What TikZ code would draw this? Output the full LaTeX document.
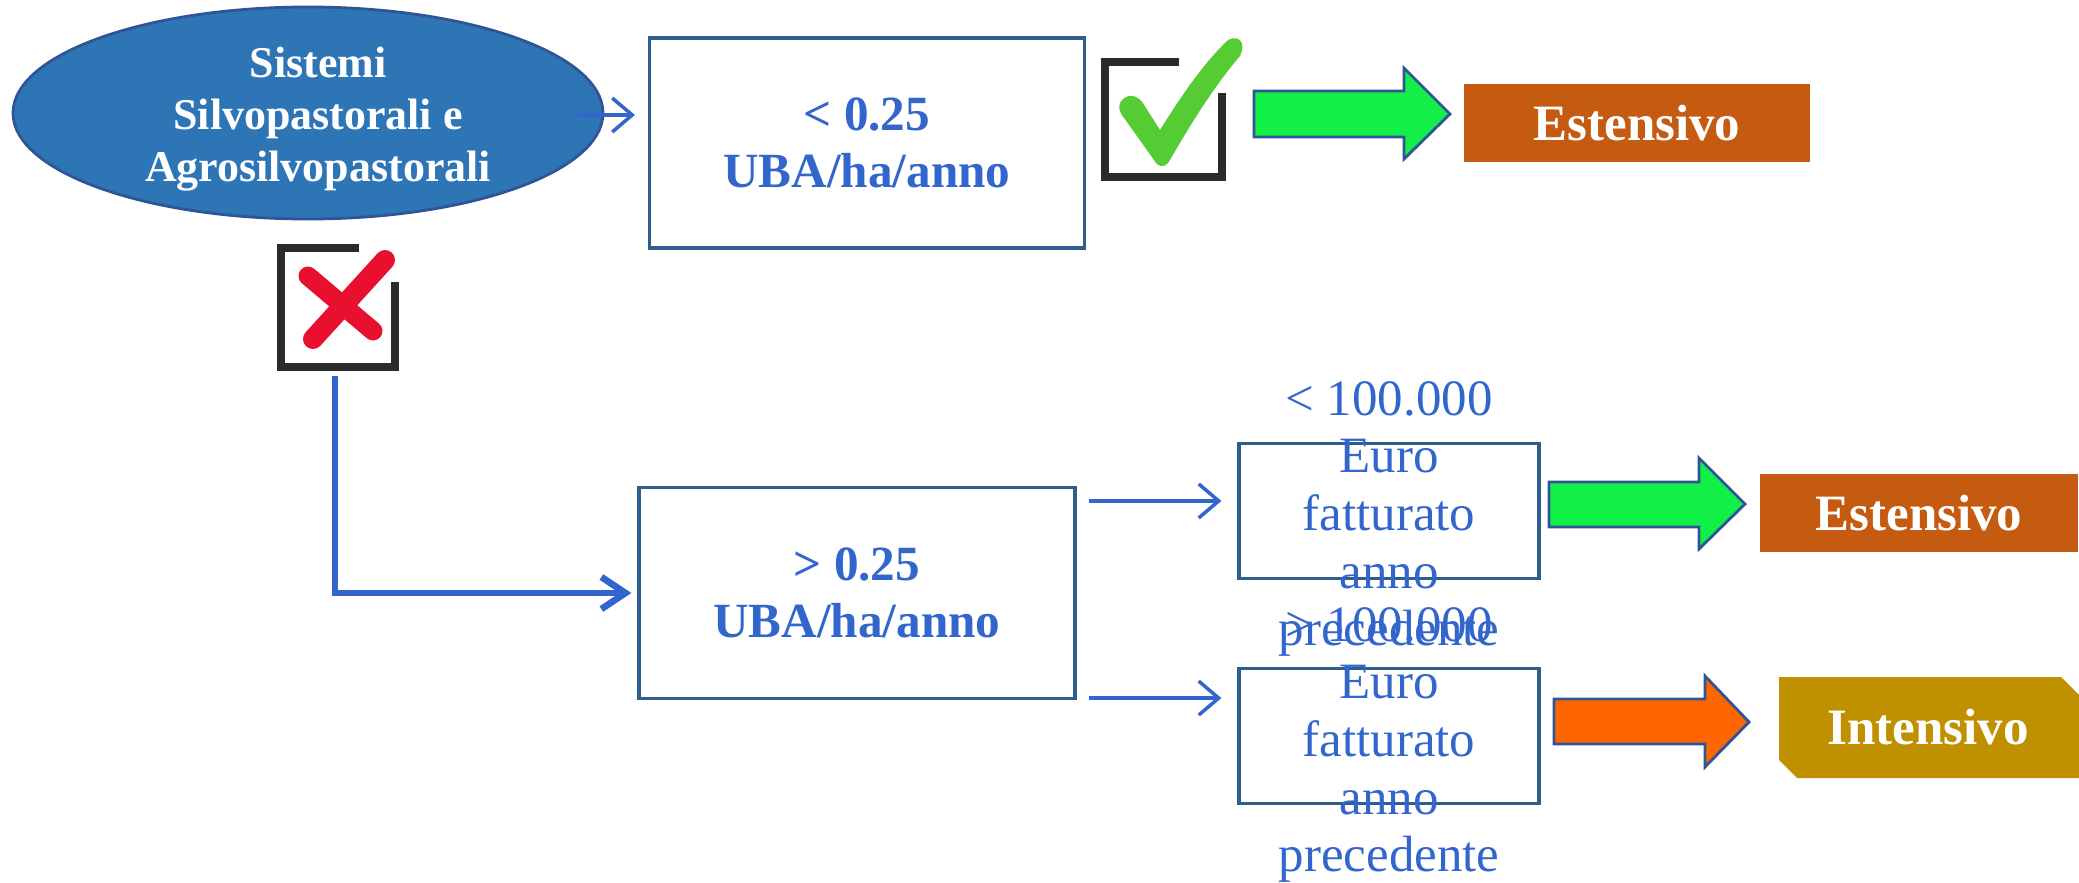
\documentclass[tikz,border=0pt]{standalone}
\usepackage{fontspec}
\setmainfont{Liberation Serif}
\usetikzlibrary{shapes.geometric,arrows.meta,calc}
\definecolor{ellfill}{HTML}{2E75B6}
\definecolor{ellborder}{HTML}{2F5597}
\definecolor{boxborder}{HTML}{2F5D8C}
\definecolor{txtblue}{HTML}{3366CC}
\definecolor{connblue}{HTML}{3366CC}
\definecolor{arrgreen}{HTML}{12F048}
\definecolor{arrorange}{HTML}{FF6600}
\definecolor{arrborder}{HTML}{2F5597}
\definecolor{estcol}{HTML}{C55A11}
\definecolor{intcol}{HTML}{BF9000}
\definecolor{iconframe}{HTML}{2B2B2B}
\definecolor{checkgreen}{HTML}{55CC33}
\definecolor{crossred}{HTML}{E8102E}
\tikzset{
  ubabox/.style={draw=boxborder, line width=0.9pt, text=txtblue, align=center,
    font=\fontsize{14}{16.2}\selectfont\bfseries},
  eurobox/.style={draw=boxborder, line width=0.9pt, minimum width=30mm, minimum height=13.5mm, inner sep=0pt},
  eurotext/.style={text=txtblue, align=center, font=\fontsize{14.5}{16.4}\selectfont},
  resbox/.style={text=white, font=\fontsize{14.5}{16.5}\selectfont\bfseries, inner sep=0pt},
  blockarrow/.style={draw=arrborder, line width=0.8pt, line join=miter},
  thinconn/.style={draw=connblue, line width=1pt, -{Straight Barb[length=2mm,width=3.4mm]}},
  thickconn/.style={draw=connblue, line width=1.9pt, -{Straight Barb[length=2.4mm,width=3.2mm]}},
  iconbox/.style={minimum width=11.6mm, minimum height=11.8mm, inner sep=0pt},
  frameline/.style={draw=iconframe, line width=2pt, line join=miter},
}
\begin{document}
\begin{tikzpicture}[x=0.1mm,y=-0.1mm]
\useasboundingbox (0,0) rectangle (2079,882);

% ellipse
\node[ellipse, draw=ellborder, fill=ellfill, line width=0.8pt, minimum width=59mm,
  minimum height=21.2mm, inner sep=0pt,
  label={[text=white, align=center, xshift=1mm, yshift=-0.6mm,
    font=\fontsize{12.5}{14.8}\selectfont\bfseries]center:{Sistemi\\Silvopastorali e\\Agrosilvopastorali}}]
  (ell) at (308,113) {};

% boxes
\node[ubabox, minimum width=43.5mm, minimum height=21mm] (box1) at (867,143) {< 0.25\\UBA/ha/anno};
\node[ubabox, minimum width=43.6mm, minimum height=21.1mm] (box2) at (857,593) {> 0.25\\UBA/ha/anno};

\node[eurobox, label={[eurotext, yshift=-0.8mm]center:{< 100.000\\Euro\\fatturato\\anno\\precedente}}] (b3) at (1389,511) {};
\node[eurobox, label={[eurotext, yshift=-0.9mm]center:{> 100.000\\Euro\\fatturato\\anno\\precedente}}] (b4) at (1389,736) {};

% check icon
\node[iconbox] (vicon) at (1164,119) {};
\draw[frameline] (1179,62) -- (1105,62) -- (1105,177) -- (1222,177) -- (1222,93);
\fill[checkgreen] (1122,100) .. controls (1130,92) and (1140,96) .. (1146,108)
  -- (1160,130) .. controls (1185,90) and (1205,62) .. (1228,40)
  .. controls (1240,34) and (1246,44) .. (1240,56)
  .. controls (1215,85) and (1190,125) .. (1170,160)
  .. controls (1166,168) and (1158,168) .. (1154,160) -- (1124,118)
  .. controls (1118,110) and (1118,104) .. (1122,100) -- cycle;

% cross icon
\node[iconbox] (xicon) at (338,307) {};
\draw[frameline] (359,248) -- (281,248) -- (281,367) -- (395,367) -- (395,282);
\draw[crossred, line width=2mm, line cap=round] (385,260) -- (313,339);
\draw[crossred, line width=1.9mm, line cap=round] (308,276) -- (373,331);

% block arrows
\draw[blockarrow, fill=arrgreen] (1254,91) -- (1404,91) -- (1404,68) -- (1450,114) -- (1404,159) -- (1404,137) -- (1254,137) -- cycle;
\draw[blockarrow, fill=arrgreen] (1549,482) -- (1699,482) -- (1699,458) -- (1745,504) -- (1699,549) -- (1699,527) -- (1549,527) -- cycle;
\draw[blockarrow, fill=arrorange] (1554,699) -- (1705,699) -- (1705,676) -- (1749,722) -- (1705,767) -- (1705,744) -- (1554,744) -- cycle;

% result boxes
\node[resbox, fill=estcol, minimum width=34.6mm, minimum height=7.8mm] (est1) at (1637,123) {Estensivo};
\node[resbox, fill=estcol, minimum width=31.8mm, minimum height=7.8mm] (est2) at (1919,513) {Estensivo};
\fill[intcol] (1779,677) -- (2061,677) -- (2079,695) -- (2079,778) -- (1797,778) -- (1779,760) -- cycle;
\node[resbox] (int) at (1928,727) {Intensivo};

% connectors
\coordinate (a0) at ([xshift=-2.6mm,yshift=-0.2mm]ell.east);
\draw[thinconn, shorten >=1.3mm] (a0) -- (a0 -| box1.west);
\coordinate (a1) at ([shift={(1.2mm,-1.5mm)}]box2.north east);
\draw[thinconn, shorten >=1.6mm] (a1) -- (a1 -| b3.west);
\coordinate (a2) at ([shift={(1.2mm,0.2mm)}]box2.south east);
\draw[thinconn, shorten >=1.6mm] (a2) -- (a2 -| b4.west);
\draw[thickconn, shorten >=0.6mm] ([xshift=-0.3mm,yshift=-0.9mm]xicon.south) |- (box2.west);
\end{tikzpicture}
\end{document}
